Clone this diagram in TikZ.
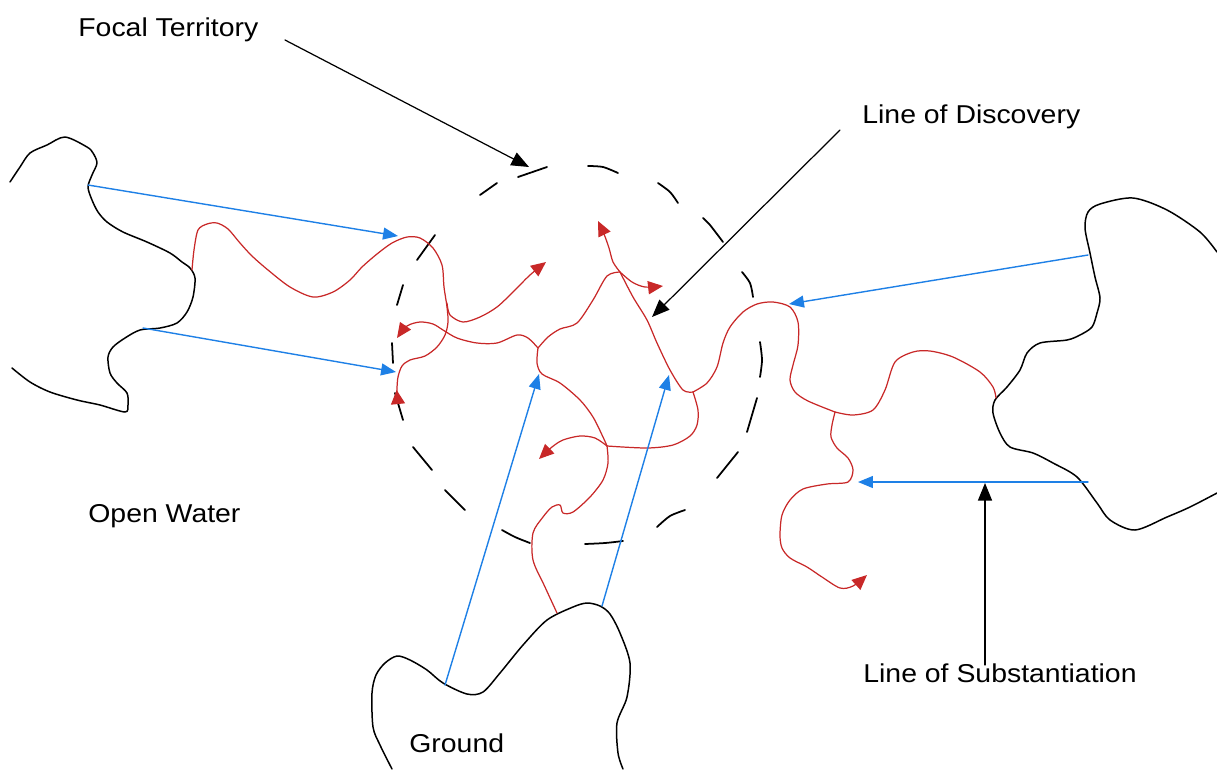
\documentclass[tikz,border=0pt]{standalone}
\usepackage{fontspec}
\setmainfont{Liberation Sans}
\usepackage{graphicx}
\usetikzlibrary{arrows.meta}
\definecolor{bluearr}{RGB}{30,128,230}
\definecolor{redpath}{RGB}{200,40,40}
\begin{document}
\begin{tikzpicture}[x=0.02cm,y=-0.02cm,line join=round,line cap=round,
  land/.style={draw=black,line width=0.85pt},
  route/.style={draw=redpath,line width=0.7pt},
  redtip/.style={route,-{Triangle[length=8.5pt,width=7.5pt]}},
  redback/.style={route,-{Triangle[reversed,length=8pt,width=8pt]}},
  bluearrow/.style={draw=bluearr,line width=0.8pt,-{Triangle[length=8.5pt,width=6.8pt]}},
  pointer/.style={draw=black,line width=0.7pt,-{Triangle[length=10pt,width=8pt]}},
  ring/.style={draw=black,line width=1pt},
  lbl/.style={font=\fontsize{14.7pt}{17pt}\selectfont,inner sep=0pt,anchor=base west}]
\useasboundingbox (0,0) rectangle (1217,769);

% ---- labels
\node[lbl] (focal) at (78,36) {\scalebox{1.1}[1]{Focal Territory}};
\node[lbl] (discovery) at (862,123) {\scalebox{1.1}[1]{Line of Discovery}};
\node[lbl] (water) at (88,522) {\scalebox{1.1}[1]{Open Water}};
\node[lbl] (subst) at (863,682) {\scalebox{1.1}[1]{Line of Substantiation}};
\node[lbl] (ground) at (409,752) {\scalebox{1.1}[1]{Ground}};

% ---- land outlines
\draw[land] plot[smooth,tension=0.5] coordinates {(10,182) (20,167) (30,153) (47,145) (65,137) (87,147) (93,153) (97,163) (92,175) (88,187) (92,200) (98,212) (107,222) (123,232) (147,242) (170,253) (182,262) (190,268) (195,278) (193,297) (187,312) (177,323) (160,328) (140,330) (125,338) (113,347) (108,357) (110,373) (117,383) (127,393) (128,405) (125,412) (100,405) (77,400) (50,392) (30,382) (12,368)};
\draw[land] plot[smooth,tension=0.5] coordinates {(1217,252) (1200,232) (1167,210) (1133,198) (1100,204) (1088,212) (1085,228) (1090,253) (1095,277) (1100,298) (1097,313) (1092,327) (1080,335) (1067,340) (1040,343) (1027,353) (1020,370) (1007,387) (995,400) (993,413) (1000,433) (1010,447) (1033,453) (1053,463) (1077,477) (1097,503) (1110,520) (1135,530) (1167,517) (1190,507) (1217,493)};
\draw[land] plot[smooth,tension=0.5] coordinates {(392,769) (380,745) (373,727) (372,693) (376,675) (385,663) (397,656) (410,660) (427,670) (443,683) (467,694) (483,692) (500,673) (523,645) (547,620) (573,607) (587,603) (600,606) (610,614) (620,633) (630,663) (627,697) (617,723) (618,753) (623,769)};

% ---- dashed focal territory
\draw[ring] (480,195) -- (497,183);
\draw[ring] (518,177) -- (547,167);
\draw[ring] plot[smooth] coordinates {(588,166) (603,167) (618,173)};
\draw[ring] plot[smooth] coordinates {(658,183) (670,192) (678,203)};
\draw[ring] plot[smooth] coordinates {(703,218) (710,225) (723,242)};
\draw[ring] plot[smooth] coordinates {(742,272) (750,283) (753,297)};
\draw[ring] plot[smooth] coordinates {(760,342) (762,360) (760,377)};
\draw[ring] (757,398) -- (747,432);
\draw[ring] (738,452) -- (717,478);
\draw[ring] plot[smooth] coordinates {(685,510) (670,516) (657,527)};
\draw[ring] plot[smooth] coordinates {(623,541) (605,543) (585,544)};
\draw[ring] plot[smooth] coordinates {(530,543) (515,537) (502,530)};
\draw[ring] (465,510) -- (445,490);
\draw[ring] (432,470) -- (413,447);
\draw[ring] (403,420) -- (395,393);
\draw[ring] (392,343) -- (393,363);
\draw[ring] (397,305) -- (403,285);
\draw[ring] (417,260) -- (435,235);

% ---- red routes
\coordinate (J1) at (538,348);
\coordinate (J2) at (620,272);
\coordinate (J3) at (693,392);
\coordinate (J4) at (607,446);
\coordinate (J5) at (835,412);
\coordinate (JA) at (447,303);
\draw[redback] plot[smooth,tension=0.5] coordinates {(192,270) (194,250) (198,230) (207,224) (217,223) (228,229) (240,243) (252,256) (268,270) (290,287) (313,297) (333,292) (350,280) (362,267) (377,254) (392,243) (407,237) (420,238) (433,248) (442,265) (444,287) (447,307) (448,322) (445,335) (437,347) (425,356) (410,360) (402,366) (398,377) (397,390) (398,404)};
\draw[redtip] plot[smooth,tension=0.5] coordinates {(JA) (450,315) (463,322) (480,317) (497,307) (513,292) (530,275) (546,262)};
\draw[redtip] plot[smooth,tension=0.5] coordinates {(J1) (528,338) (517,335) (497,343) (477,343) (457,338) (443,330) (433,324) (420,322) (407,326) (397,338)};
\draw[route] plot[smooth,tension=0.5] coordinates {(J1) (548,337) (560,329) (577,323) (593,300) (607,276) (J2)};
\draw[redtip] plot[smooth,tension=0.5] coordinates {(J2) (613,262) (609,248) (604,234) (598,221)};
\draw[redtip] plot[smooth,tension=0.5] coordinates {(J2) (632,282) (645,287) (663,286)};
\draw[route] plot[smooth,tension=0.5] coordinates {(J2) (633,297) (647,320) (657,343) (670,370) (683,390) (J3)};
\draw[route] plot[smooth,tension=0.5] coordinates {(J3) (707,383) (717,367) (723,343) (730,327) (743,312) (757,304) (773,302) (790,307) (798,322) (798,345) (793,365) (790,380) (795,392) (808,401) (J5)};
\draw[route] plot[smooth,tension=0.5] coordinates {(J5) (853,415) (873,410) (885,390) (895,362) (913,352) (930,351) (953,357) (980,372) (993,387) (996,398)};
\draw[redtip] plot[smooth,tension=0.5] coordinates {(J5) (832,425) (831,437) (837,448) (848,458) (853,470) (848,482) (827,484) (803,489) (790,500) (782,515) (780,535) (782,548) (790,558) (807,567) (822,577) (840,588) (853,586) (867,575)};
\draw[route] plot[smooth,tension=0.5] coordinates {(J3) (698,410) (697,425) (690,436) (673,445) (647,448) (J4)};
\draw[redtip] plot[smooth,tension=0.5] coordinates {(J4) (595,438) (580,436) (563,440) (552,447) (539,459)};
\draw[route] plot[smooth,tension=0.5] coordinates {(J1) (537,363) (542,374) (560,383) (580,400) (593,417) (603,437) (J4)};
\draw[route] plot[smooth,tension=0.5] coordinates {(J4) (608,463) (603,480) (590,497) (573,512) (563,513) (560,505) (552,507) (543,517) (533,533) (533,560) (545,587) (557,613)};

% ---- blue lines
\coordinate (b1s) at (88,185);   \coordinate (b1e) at (398,236);
\coordinate (b2s) at (143,328);  \coordinate (b2e) at (396,372);
\coordinate (b3s) at (1088,255); \coordinate (b3e) at (789,304);
\coordinate (b4s) at (1088,482); \coordinate (b4e) at (858,482);
\coordinate (b5s) at (445,685);  \coordinate (b5e) at (539,374);
\coordinate (b6s) at (602,606);  \coordinate (b6e) at (669,375);
\draw[bluearrow] (b1s) -- (b1e);
\draw[bluearrow] (b2s) -- (b2e);
\draw[bluearrow] (b3s) -- (b3e);
\draw[bluearrow] (b4s) -- (b4e);
\draw[bluearrow] (b5s) -- (b5e);
\draw[bluearrow] (b6s) -- (b6e);

% ---- black pointers
\coordinate (ftS) at (285,40);  \coordinate (ftE) at (529,167);
\coordinate (ldS) at (840,130); \coordinate (ldE) at (652,317);
\coordinate (lsS) at (985,665); \coordinate (lsE) at (985,483);
\draw[pointer] (ftS) -- (ftE);
\draw[pointer] (ldS) -- (ldE);
\draw[pointer] (lsS) -- (lsE);
\end{tikzpicture}
\end{document}
